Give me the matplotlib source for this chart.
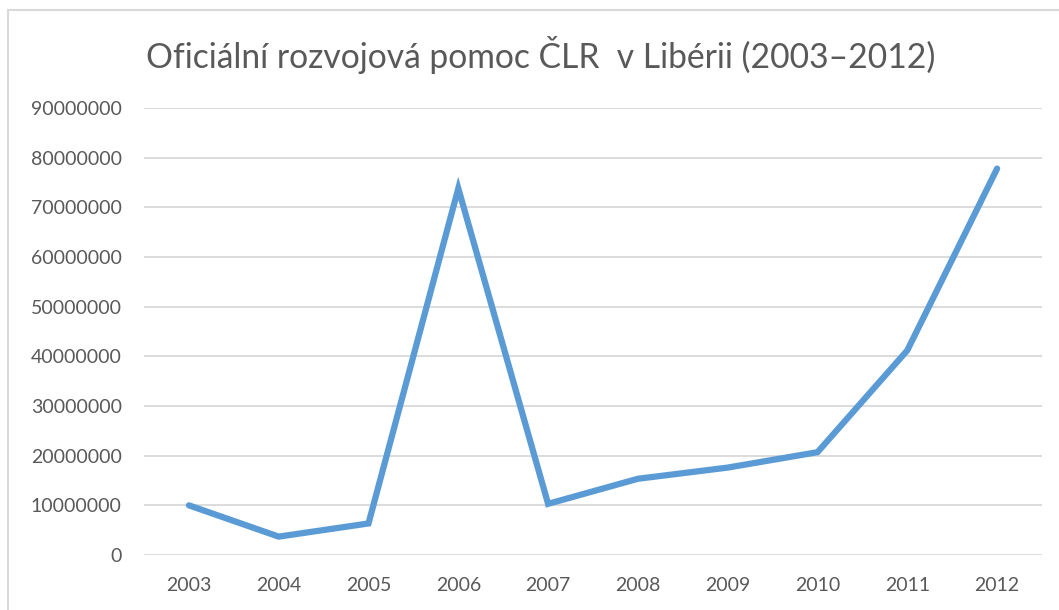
import matplotlib.pyplot as plt
from matplotlib.patches import Rectangle

# data
years = ["2003", "2004", "2005", "2006", "2007", "2008", "2009", "2010", "2011", "2012"]
aid = [10000000, 3700000, 6350000, 73800000, 10300000, 15350000, 17600000, 20700000, 41200000, 77800000]
yticks = list(range(0, 90000001, 10000000))

plt.rcParams['font.family'] = ['Lato', 'DejaVu Sans']

fig = plt.figure(figsize=(10.59, 6.10), dpi=100)
fig.patch.set_facecolor("white")

# light frame of the chart area (runs off the right and bottom edge)
top = 1 - 10 / 610
fig.patches.append(Rectangle((8 / 1059, -0.1), 1.1, top + 0.1,
                             transform=fig.transFigure, fill=False,
                             edgecolor="#D9D9D9", linewidth=1.5))

ax = fig.add_axes([144 / 1059, 55 / 610, 898 / 1059, 447 / 610])
x = list(range(len(years)))
ax.plot(x, aid, color="#5B9BD5", linewidth=4.5, solid_capstyle="round",
        solid_joinstyle="miter", zorder=3)

ax.set_xlim(-0.5, len(years) - 0.5)
ax.set_ylim(0, 90000000)
ax.set_yticks(yticks)
ax.set_yticklabels([str(v) for v in yticks])
ax.set_xticks(x)
ax.set_xticklabels(years)
ax.yaxis.grid(True, color="#D9D9D9", linewidth=1.3)
ax.set_axisbelow(True)
for s in ax.spines.values():
    s.set_visible(False)
ax.tick_params(axis="both", length=0, labelsize=14, colors="#595959")
ax.tick_params(axis="y", pad=16)
ax.tick_params(axis="x", pad=16)

fig.text(541 / 1059, 1 - 55 / 610, "Oficiální rozvojová pomoc ČLR  v Libérii (2003–2012)",
         ha="center", va="center", fontsize=24.2, color="#595959")

fig.savefig("out.png", dpi=100)
